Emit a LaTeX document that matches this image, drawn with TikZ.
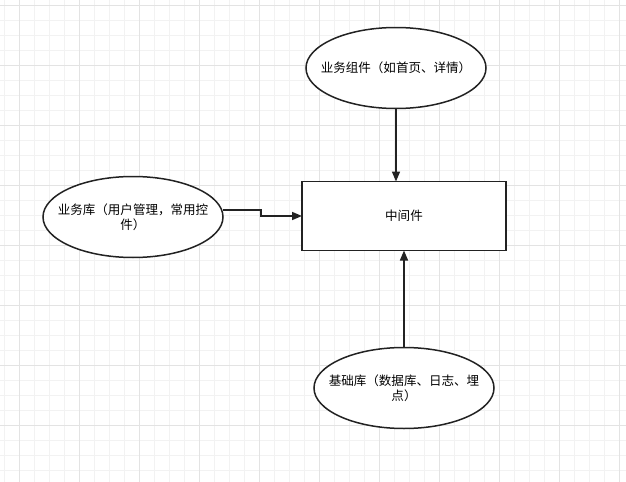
\documentclass[tikz,border=0pt]{standalone}
\usepackage{fontspec}
\newfontfamily\cjk{Noto Sans CJK SC}
\usetikzlibrary{arrows.meta,shapes.geometric}
\definecolor{gridminor}{HTML}{F2F2F2}
\definecolor{gridmajor}{HTML}{E3E3E3}
\definecolor{ink}{HTML}{222222}
\begin{document}
\begin{tikzpicture}[x=0.75pt,y=-0.75pt,
  shapeline/.style={draw=ink, line width=1.5pt*0.75, outer sep=0pt},
  txt/.style={align=center, inner sep=0pt, font=\cjk\fontsize{9.4pt}{11.4pt}\selectfont},
  ell/.style={shapeline, ellipse, minimum width=180*0.75pt, minimum height=81*0.75pt, inner sep=0pt, fill=white, label={[txt]center:#1}},
  boxnode/.style={shapeline, rectangle, minimum width=204*0.75pt, minimum height=69*0.75pt, inner sep=0pt, font=\cjk\fontsize{9.4pt}{11.4pt}\selectfont, fill=white},
  conn/.style={draw=ink, line width=1.6pt*0.75, -{Triangle[length=10*0.75pt, width=8*0.75pt]}}]
\useasboundingbox (0,0) rectangle (626,482);
\fill[white] (0,0) rectangle (626,482);
\foreach \x in {4,19,...,626} \draw[gridminor, line width=0.75pt] (\x,0) -- (\x,482);
\foreach \y in {5,20,...,482} \draw[gridminor, line width=0.75pt] (0,\y) -- (626,\y);
\foreach \x in {19,79,...,626} \draw[gridmajor, line width=0.75pt] (\x,0) -- (\x,482);
\foreach \y in {5,65,...,482} \draw[gridmajor, line width=0.75pt] (0,\y) -- (626,\y);

\node[ell={业务组件（如首页、详情）}] (top) at (396,68) {};
\node[ell={业务库（用户管理，常用控\\件）}] (left) at (133,217) {};
\node[ell={基础库（数据库、日志、埋\\点）}] (bottom) at (404,388) {};
\node[boxnode] (mid) at (404,216) {中间件};

\coordinate (lb1) at (261,210);
\coordinate (lb2) at (261,216);
\draw[conn] (top.south) -- (top.south |- mid.north);
\draw[conn] (left.east |- lb1) -- (lb1) -- (lb2) -- (mid.west |- lb2);
\draw[conn] (bottom.north) -- (mid.south -| bottom.north);
\end{tikzpicture}
\end{document}
